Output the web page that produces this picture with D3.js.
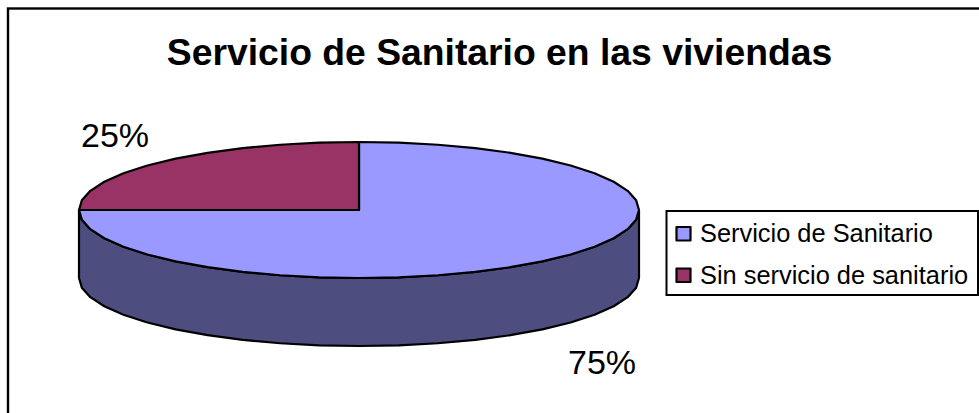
<!DOCTYPE html>
<html><head><meta charset="utf-8">
<script src="https://cdn.jsdelivr.net/npm/d3@7"></script>
<style>html,body{margin:0;padding:0;background:#fff;overflow:hidden}svg{display:block}text{font-family:"Liberation Sans",Arial,sans-serif;fill:#000}</style>
</head><body><svg id="c" width="979" height="413"></svg>
<script>
const categories = ["Servicio de Sanitario", "Sin servicio de sanitario"];
const values = [75, 25];
const valueLabels = ["75%", "25%"];
const topColors = ["#9999FF", "#993366"];
const sideColors = ["#4D4D80"];
const title = "Servicio de Sanitario en las viviendas";

const svg = d3.select("#c");
svg.append("rect").attr("x",8).attr("y",8.5).attr("width",1100).attr("height",600)
  .attr("fill","#fff").attr("stroke","#000").attr("stroke-width",2.4);

svg.append("text").attr("x",499.5).attr("y",65).attr("text-anchor","middle")
  .attr("font-weight","bold").attr("font-size",37.3).text(title);

// pie geometry
const cx=359, cy=210, rx=280, ry=68, depth=68;
const px=d3.scaleLinear().domain([-1,1]).range([cx-rx,cx+rx]);
const py=d3.scaleLinear().domain([-1,1]).range([cy-ry,cy+ry]);
const arcs=d3.pie().sort(null)(values);
const step=Math.PI/22;
function samples(a0,a1){
  const n=Math.max(1,Math.round((a1-a0)/step)), r=[];
  for(let i=0;i<=n;i++) r.push(a0+(a1-a0)*i/n);
  return r;
}
const pt=(a,dy=0)=>[px(Math.sin(a)),py(-Math.cos(a))+dy];
const line=d3.line();
const stroke=g=>g.attr("stroke","#000").attr("stroke-width",2.2).attr("stroke-linejoin","round");

// side wall: front half of the rim
const front=samples(Math.PI/2,Math.PI*3/2);
svg.append("path").attr("d",line([...front.map(a=>pt(a)),...front.slice().reverse().map(a=>pt(a,depth))])+"Z")
  .attr("fill",sideColors[0]).call(stroke);

// top slices
svg.selectAll("path.slice").data(arcs).enter().append("path").attr("class","slice")
  .attr("d",d=>line([[cx,cy],...samples(d.startAngle,d.endAngle).map(a=>pt(a))])+"Z")
  .attr("fill",(d,i)=>topColors[i]).call(stroke);

// value labels
const labelPos=[[602,374],[115,147]];
svg.selectAll("text.v").data(valueLabels).enter().append("text").attr("class","v")
  .attr("x",(d,i)=>labelPos[i][0]).attr("y",(d,i)=>labelPos[i][1])
  .attr("text-anchor","middle").attr("font-size",34).text(d=>d);

// legend
svg.append("rect").attr("x",666.5).attr("y",211).attr("width",311.5).attr("height",84)
  .attr("fill","#fff").attr("stroke","#000").attr("stroke-width",2);
const ly=d3.scalePoint().domain(categories).range([233.5,275]);
const items=svg.selectAll("g.l").data(categories).enter().append("g").attr("class","l")
  .attr("transform",d=>`translate(0,${ly(d)})`);
items.append("rect").attr("x",676.5).attr("y",-6.5).attr("width",14).attr("height",13.5)
  .attr("fill",(d,i)=>topColors[i]).call(stroke);
items.append("text").attr("x",700).attr("y",8.5).attr("font-size",25.4).text(d=>d);
</script></body></html>
